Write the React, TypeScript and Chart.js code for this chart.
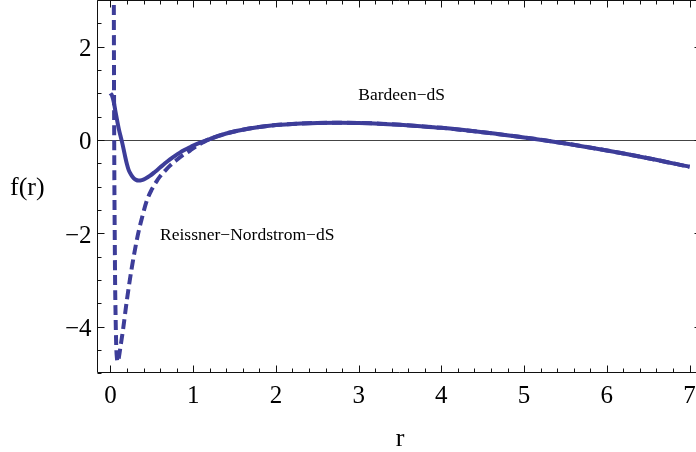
import React, { useEffect, useRef } from "react";
import { Chart, registerables } from "chart.js";

Chart.register(...registerables);

// ---- data ----
const bardeenR = [0, 0.02, 0.04, 0.06, 0.08, 0.1, 0.12, 0.14, 0.16, 0.18, 0.2, 0.22, 0.25, 0.28, 0.31, 0.34, 0.38, 0.42, 0.48, 0.54, 0.6, 0.66, 0.72, 0.78, 0.84, 0.9, 0.96, 1.0, 1.1, 1.2, 1.4, 1.6, 1.8, 2.0, 2.25, 2.5, 2.75, 3.0, 3.25, 3.5, 3.75, 4.0, 4.5, 5.0, 5.5, 6.0, 6.5, 7.0];
const bardeenF = [1.0, 0.95, 0.82, 0.62, 0.43, 0.25, 0.1, -0.04, -0.2, -0.37, -0.52, -0.64, -0.745, -0.815, -0.855, -0.87, -0.86, -0.83, -0.765, -0.68, -0.59, -0.5, -0.415, -0.34, -0.27, -0.21, -0.155, -0.12, -0.045, 0.02, 0.14, 0.22, 0.28, 0.32, 0.35, 0.365, 0.37, 0.365, 0.35, 0.325, 0.295, 0.26, 0.165, 0.055, -0.075, -0.225, -0.39, -0.575];

const rnR = [0.038, 0.04, 0.044, 0.048, 0.053, 0.057, 0.062, 0.07, 0.079, 0.088, 0.095, 0.105, 0.12, 0.15, 0.2, 0.26, 0.33, 0.38, 0.44, 0.5, 0.56, 0.6, 0.66, 0.72, 0.8, 0.88, 0.96, 1.05, 1.12, 1.2, 1.4, 1.6, 1.8, 2.0, 2.25, 2.5, 2.75, 3.0, 3.25, 3.5, 3.75, 4.0, 4.5, 5.0, 5.5, 6.0, 6.5, 7.0];
const rnF = [4.5, 3.8, 1.0, -0.9, -2.2, -3.1, -3.7, -4.4, -4.68, -4.75, -4.73, -4.63, -4.45, -4.1, -3.42, -2.72, -2.05, -1.68, -1.3, -1.06, -0.88, -0.78, -0.66, -0.55, -0.43, -0.32, -0.23, -0.12, -0.05, 0.02, 0.14, 0.22, 0.28, 0.32, 0.35, 0.365, 0.37, 0.365, 0.35, 0.325, 0.295, 0.26, 0.165, 0.055, -0.075, -0.225, -0.39, -0.575];

const xTickValues = [0, 1, 2, 3, 4, 5, 6, 7];
const xTickLabels = ["0", "1", "2", "3", "4", "5", "6", "7"];
const yTickValues = [-4, -2, 0, 2];
const yTickLabels = ["\u22124", "\u22122", "0", "2"];

const seriesNames = ["Bardeen\u2212dS", "Reissner\u2212Nordstrom\u2212dS"];
const bardeenLabelAt = [3.52, 0.86]; // data coords (centre, baseline)
const rnLabelAt = [0.6, -2.14]; // data coords (left, baseline)

const X_MIN = -0.15, X_MAX = 7.15, Y_MIN = -5, Y_MAX = 3;
const CURVE = "#3d3d99";
const SERIF = '"Liberation Serif", "Times New Roman", serif';

const framePlugin = {
  id: "mmaFrame",
  beforeDatasetsDraw(chart: any) {
    const { ctx, chartArea, scales } = chart;
    const y0 = Math.round(scales.y.getPixelForValue(0)) + 0.5;
    ctx.save();
    ctx.strokeStyle = "#444";
    ctx.lineWidth = 1.2;
    ctx.beginPath();
    ctx.moveTo(chartArea.left, y0);
    ctx.lineTo(chartArea.right, y0);
    ctx.stroke();
    ctx.restore();
  },
  afterDraw(chart: any) {
    const { ctx, chartArea, scales } = chart;
    const { x, y } = scales;
    const L = Math.round(chartArea.left) - 0.5;
    const R = Math.round(chartArea.right) - 0.5;
    const T = Math.round(chartArea.top) + 0.5;
    const B = Math.round(chartArea.bottom) - 0.5;
    ctx.save();
    ctx.strokeStyle = "#111";
    ctx.lineWidth = 1;
    ctx.beginPath();
    ctx.moveTo(L, T); ctx.lineTo(R, T); ctx.lineTo(R, B); ctx.lineTo(L, B); ctx.closePath();
    // x ticks (top and bottom, inward)
    for (let i = 0; i <= 35; i++) {
      const v = i * 0.2;
      const len = i % 5 === 0 ? 7 : 4;
      const px = Math.round(x.getPixelForValue(v)) + 0.5;
      ctx.moveTo(px, B); ctx.lineTo(px, B - len);
      ctx.moveTo(px, T); ctx.lineTo(px, T + len);
    }
    // y ticks (left and right, inward)
    for (let i = 0; i <= 16; i++) {
      const v = Y_MIN + i * 0.5;
      const len = (i - 2) % 4 === 0 ? 7 : 4;
      const py = Math.round(y.getPixelForValue(v)) + 0.5;
      ctx.moveTo(L, py); ctx.lineTo(L + len, py);
      ctx.moveTo(R, py); ctx.lineTo(R - len, py);
    }
    ctx.stroke();

    ctx.fillStyle = "#000";
    ctx.font = `25px ${SERIF}`;
    ctx.textBaseline = "alphabetic";
    ctx.textAlign = "center";
    xTickValues.forEach((v, i) => {
      ctx.fillText(xTickLabels[i], x.getPixelForValue(v), B + 30);
    });
    ctx.textAlign = "right";
    yTickValues.forEach((v, i) => {
      ctx.fillText(yTickLabels[i], L - 6, y.getPixelForValue(v) + 9.5);
    });

    // axis titles
    ctx.font = `26px ${SERIF}`;
    ctx.textAlign = "center";
    ctx.fillText("r", 400, 446);
    ctx.textAlign = "left";
    ctx.fillText("f(r)", 10, 195);

    // curve labels
    ctx.font = `17.5px ${SERIF}`;
    ctx.textAlign = "center";
    ctx.fillText(seriesNames[0], x.getPixelForValue(bardeenLabelAt[0]), y.getPixelForValue(bardeenLabelAt[1]));
    ctx.textAlign = "left";
    ctx.fillText(seriesNames[1], x.getPixelForValue(rnLabelAt[0]), y.getPixelForValue(rnLabelAt[1]));
    ctx.restore();
  },
};

export default function App() {
  const ref = useRef<HTMLCanvasElement | null>(null);
  useEffect(() => {
    const canvas = ref.current;
    if (!canvas) return;
    const chart = new Chart(canvas, {
      type: "scatter",
      data: {
        datasets: [
          {
            label: seriesNames[1],
            data: rnR.map((r, i) => ({ x: r, y: rnF[i] })),
            showLine: true,
            borderColor: CURVE,
            backgroundColor: CURVE,
            borderWidth: 4,
            borderDash: [10, 5],
            borderCapStyle: "butt",
            pointRadius: 0,
            cubicInterpolationMode: "monotone",
          },
          {
            label: seriesNames[0],
            data: bardeenR.map((r, i) => ({ x: r, y: bardeenF[i] })),
            showLine: true,
            borderColor: CURVE,
            backgroundColor: CURVE,
            borderWidth: 4,
            borderCapStyle: "butt",
            pointRadius: 0,
            cubicInterpolationMode: "monotone",
          },
        ],
      },
      options: {
        animation: false,
        responsive: false,
        devicePixelRatio: 1,
        layout: { padding: 0 },
        plugins: { legend: { display: false }, tooltip: { enabled: false } },
        scales: {
          x: {
            type: "linear",
            min: X_MIN,
            max: X_MAX,
            ticks: { display: false },
            grid: { display: false },
            border: { display: false },
            afterFit: (s: any) => { s.height = 78.7; },
          },
          y: {
            type: "linear",
            min: Y_MIN,
            max: Y_MAX,
            ticks: { display: false },
            grid: { display: false },
            border: { display: false },
            afterFit: (s: any) => { s.width = 98; },
          },
        },
      },
      plugins: [framePlugin],
    } as any);
    return () => chart.destroy();
  }, []);
  return (
    <div style={{ position: "absolute", left: 0, top: 0, width: 696, height: 452, overflow: "hidden", background: "#fff" }}>
      <canvas ref={ref} width={702} height={452} style={{ display: "block" }} />
    </div>
  );
}
